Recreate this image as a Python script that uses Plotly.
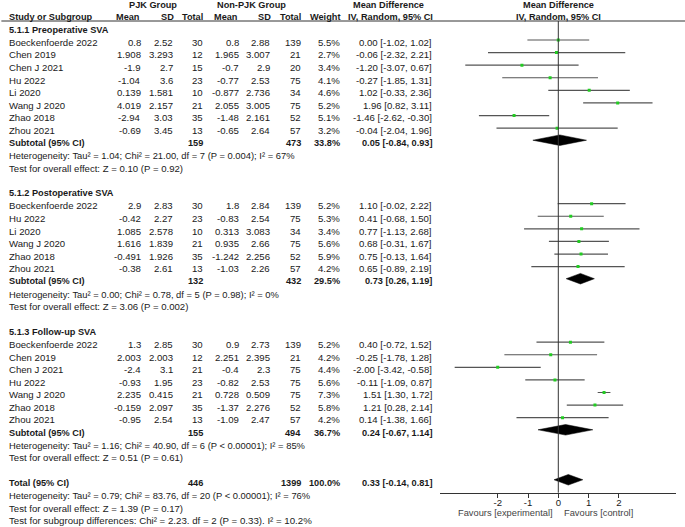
import plotly.graph_objects as go

# ---------------- data ----------------
sec1_title = "5.1.1 Preoperative SVA"
sec1_study = ["Boeckenfoerde 2022", "Chen 2019", "Chen J 2021", "Hu 2022", "Li 2020", "Wang J 2020", "Zhao 2018", "Zhou 2021"]
sec1_pjk_mean = ["0.8", "1.908", "-1.9", "-1.04", "0.139", "4.019", "-2.94", "-0.69"]
sec1_pjk_sd = ["2.52", "3.293", "2.7", "3.6", "1.581", "2.157", "3.03", "3.45"]
sec1_pjk_n = [30, 12, 15, 23, 10, 21, 35, 13]
sec1_non_mean = ["0.8", "1.965", "-0.7", "-0.77", "-0.877", "2.055", "-1.48", "-0.65"]
sec1_non_sd = ["2.88", "3.007", "2.9", "2.53", "2.736", "3.005", "2.161", "2.64"]
sec1_non_n = [139, 21, 20, 75, 34, 75, 52, 57]
sec1_weight = [5.5, 2.7, 3.4, 4.1, 4.6, 5.2, 5.1, 3.2]
sec1_md = [0.00, -0.06, -1.20, -0.27, 1.02, 1.96, -1.46, -0.04]
sec1_lo = [-1.02, -2.32, -3.07, -1.85, -0.33, 0.82, -2.62, -2.04]
sec1_hi = [1.02, 2.21, 0.67, 1.31, 2.36, 3.11, -0.30, 1.96]
sec1_sub = dict(n1=159, n2=473, w=33.8, md=0.05, lo=-0.84, hi=0.93)
sec1_het = "Heterogeneity: Tau² = 1.04; Chi² = 21.00, df = 7 (P = 0.004); I² = 67%"
sec1_test = "Test for overall effect: Z = 0.10 (P = 0.92)"

sec2_title = "5.1.2 Postoperative SVA"
sec2_study = ["Boeckenfoerde 2022", "Hu 2022", "Li 2020", "Wang J 2020", "Zhao 2018", "Zhou 2021"]
sec2_pjk_mean = ["2.9", "-0.42", "1.085", "1.616", "-0.491", "-0.38"]
sec2_pjk_sd = ["2.83", "2.27", "2.578", "1.839", "1.926", "2.61"]
sec2_pjk_n = [30, 23, 10, 21, 35, 13]
sec2_non_mean = ["1.8", "-0.83", "0.313", "0.935", "-1.242", "-1.03"]
sec2_non_sd = ["2.84", "2.54", "3.083", "2.66", "2.256", "2.26"]
sec2_non_n = [139, 75, 34, 75, 52, 57]
sec2_weight = [5.2, 5.3, 3.4, 5.6, 5.9, 4.2]
sec2_md = [1.10, 0.41, 0.77, 0.68, 0.75, 0.65]
sec2_lo = [-0.02, -0.68, -1.13, -0.31, -0.13, -0.89]
sec2_hi = [2.22, 1.50, 2.68, 1.67, 1.64, 2.19]
sec2_sub = dict(n1=132, n2=432, w=29.5, md=0.73, lo=0.26, hi=1.19)
sec2_het = "Heterogeneity: Tau² = 0.00; Chi² = 0.78, df = 5 (P = 0.98); I² = 0%"
sec2_test = "Test for overall effect: Z = 3.06 (P = 0.002)"

sec3_title = "5.1.3 Follow-up SVA"
sec3_study = ["Boeckenfoerde 2022", "Chen 2019", "Chen J 2021", "Hu 2022", "Wang J 2020", "Zhao 2018", "Zhou 2021"]
sec3_pjk_mean = ["1.3", "2.003", "-2.4", "-0.93", "2.235", "-0.159", "-0.95"]
sec3_pjk_sd = ["2.85", "2.003", "3.1", "1.95", "0.415", "2.097", "2.54"]
sec3_pjk_n = [30, 12, 21, 23, 21, 35, 13]
sec3_non_mean = ["0.9", "2.251", "-0.4", "-0.82", "0.728", "-1.37", "-1.09"]
sec3_non_sd = ["2.73", "2.395", "2.3", "2.53", "0.509", "2.276", "2.47"]
sec3_non_n = [139, 21, 75, 75, 75, 52, 57]
sec3_weight = [5.2, 4.2, 4.4, 5.6, 7.3, 5.8, 4.2]
sec3_md = [0.40, -0.25, -2.00, -0.11, 1.51, 1.21, 0.14]
sec3_lo = [-0.72, -1.78, -3.42, -1.09, 1.30, 0.28, -1.38]
sec3_hi = [1.52, 1.28, -0.58, 0.87, 1.72, 2.14, 1.66]
sec3_sub = dict(n1=155, n2=494, w=36.7, md=0.24, lo=-0.67, hi=1.14)
sec3_het = "Heterogeneity: Tau² = 1.16; Chi² = 40.90, df = 6 (P < 0.00001); I² = 85%"
sec3_test = "Test for overall effect: Z = 0.51 (P = 0.61)"

total = dict(n1=446, n2=1399, w=100.0, md=0.33, lo=-0.14, hi=0.81)
total_het = "Heterogeneity: Tau² = 0.79; Chi² = 83.76, df = 20 (P < 0.00001); I² = 76%"
total_test = "Test for overall effect: Z = 1.39 (P = 0.17)"
subgroup_test = "Test for subgroup differences: Chi² = 2.23. df = 2 (P = 0.33). I² = 10.2%"

tick_vals = [-2, -1, 0, 1, 2]
tick_text = ["-2", "-1", "0", "1", "2"]
favours_left = "Favours [experimental]"
favours_right = "Favours [control]"

# ---------------- layout helpers ----------------
W, H = 685, 527
ROW0, ROWH = 4.5, 12.59          # pixel centre of row 0, row height
FONT = "Liberation Sans"
FS = 9.6         # regular text
FSB = 9.2        # bold text
FSH = 9.4        # heterogeneity lines
TXT = "#1a1a1a"

def px(x):
    return x / W

# column right edges (pixels)
C_STUDY = 7
C_M1, C_S1, C_N1 = 143, 175, 204.5
C_M2, C_S2, C_N2 = 241, 271.5, 303
C_W = 341.5
C_MD = 433.5
C_ZERO = 558.3

annots = []

def txt(x, r, s, anchor="left", bold=False, color=TXT, size=None):
    if size is None:
        size = FSB if bold else FS
    annots.append(dict(
        x=px(x), xref="paper", y=r, yref="y", text=("<b>%s</b>" % s) if bold else s,
        showarrow=False, xanchor=anchor, yanchor="middle",
        font=dict(family=FONT, size=size, color=color)))

def fmt_ci(md, lo, hi):
    return "%.2f [%.2f, %.2f]" % (md, lo, hi)

# headers
txt(153.3, 0, "PJK Group", "center", True)
txt(251.7, 0, "Non-PJK Group", "center", True)
txt(388, 0, "Mean Difference", "center", True)
txt(C_ZERO, 0, "Mean Difference", "center", True)
txt(C_STUDY, 1, "Study or Subgroup", "left", True)
for x, s in [(C_M1 - 1.5, "Mean"), (C_S1 + 1, "SD"), (C_N1, "Total"), (C_M2 - 1.5, "Mean"),
             (C_S2 + 1, "SD"), (C_N2, "Total"), (C_W, "Weight")]:
    txt(x, 1, s, "right", True)
txt(390, 1, "IV, Random, 95% CI", "center", True)
txt(C_ZERO, 1, "IV, Random, 95% CI", "center", True)

ci_x, ci_y, sq_x, sq_y = [], [], [], []
diamonds = []

sections = [
    (sec1_title, sec1_study, sec1_pjk_mean, sec1_pjk_sd, sec1_pjk_n, sec1_non_mean, sec1_non_sd,
     sec1_non_n, sec1_weight, sec1_md, sec1_lo, sec1_hi, sec1_sub, sec1_het, sec1_test),
    (sec2_title, sec2_study, sec2_pjk_mean, sec2_pjk_sd, sec2_pjk_n, sec2_non_mean, sec2_non_sd,
     sec2_non_n, sec2_weight, sec2_md, sec2_lo, sec2_hi, sec2_sub, sec2_het, sec2_test),
    (sec3_title, sec3_study, sec3_pjk_mean, sec3_pjk_sd, sec3_pjk_n, sec3_non_mean, sec3_non_sd,
     sec3_non_n, sec3_weight, sec3_md, sec3_lo, sec3_hi, sec3_sub, sec3_het, sec3_test),
]

r = 2
for (title, study, m1, s1, n1, m2, s2, n2, w, md, lo, hi, sub, het, test) in sections:
    txt(C_STUDY, r, title, "left", True)
    r += 1
    for i in range(len(study)):
        txt(C_STUDY, r, study[i])
        txt(C_M1, r, m1[i], "right")
        txt(C_S1, r, s1[i], "right")
        txt(C_N1, r, str(n1[i]), "right")
        txt(C_M2, r, m2[i], "right")
        txt(C_S2, r, s2[i], "right")
        txt(C_N2, r, str(n2[i]), "right")
        txt(C_W, r, "%.1f%%" % w[i], "right")
        txt(C_MD, r, fmt_ci(md[i], lo[i], hi[i]), "right")
        yy = r - 0.18
        ci_x += [lo[i], hi[i], None]
        ci_y += [yy, yy, None]
        sq_x.append(md[i])
        sq_y.append(yy)
        r += 1
    txt(C_STUDY, r, "Subtotal (95% CI)", "left", True)
    txt(C_N1, r, str(sub["n1"]), "right", True)
    txt(C_N2, r, str(sub["n2"]), "right", True)
    txt(C_W, r, "%.1f%%" % sub["w"], "right", True)
    txt(C_MD, r, fmt_ci(sub["md"], sub["lo"], sub["hi"]), "right", True)
    diamonds.append((sub["md"], sub["lo"], sub["hi"], r - 0.22))
    r += 1
    txt(C_STUDY, r, het, size=FSH)
    r += 1
    txt(C_STUDY, r, test)
    r += 2

txt(C_STUDY, r, "Total (95% CI)", "left", True)
txt(C_N1, r, str(total["n1"]), "right", True)
txt(C_N2, r, str(total["n2"]), "right", True)
txt(C_W, r, "%.1f%%" % total["w"], "right", True)
txt(C_MD, r, fmt_ci(total["md"], total["lo"], total["hi"]), "right", True)
diamonds.append((total["md"], total["lo"], total["hi"], r - 0.25))
r += 1
txt(C_STUDY, r, total_het, size=FSH); r += 1
txt(C_STUDY, r, total_test); r += 1
txt(C_STUDY, r, subgroup_test, size=9.7)

# Favours labels
fav_r = (512.7 - ROW0) / ROWH
txt(554.5, fav_r, favours_left, "right", color="#444", size=9.3)
txt(561.5, fav_r, favours_right, "left", color="#444", size=9.3)

fig = go.Figure()
fig.add_trace(go.Scatter(x=ci_x, y=ci_y, mode="lines", line=dict(color="#555", width=1.2),
                         hoverinfo="skip", showlegend=False))
fig.add_trace(go.Scatter(x=sq_x, y=sq_y, mode="markers",
                         marker=dict(symbol="square", size=3, color="#22cc22", line=dict(width=0)),
                         hoverinfo="skip", showlegend=False))
DH = 0.42
for (m, lo, hi, yc) in diamonds:
    fig.add_trace(go.Scatter(x=[lo, m, hi, m, lo], y=[yc, yc - DH, yc, yc + DH, yc],
                             mode="lines", fill="toself", fillcolor="black",
                             line=dict(color="black", width=0.5),
                             hoverinfo="skip", showlegend=False))

y_top = (0 - ROW0) / ROWH
y_bot = (H - ROW0) / ROWH
axis_px = 492.7
line_r = (21 - ROW0) / ROWH
axis_r = (axis_px - ROW0) / ROWH

x_lo, x_hi = -3.9, 3.9
unit = 30.3
d0 = (C_ZERO + x_lo * unit) / W
d1 = (C_ZERO + x_hi * unit) / W

fig.update_layout(
    width=W, height=H, margin=dict(l=0, r=0, t=0, b=0),
    paper_bgcolor="white", plot_bgcolor="rgba(0,0,0,0)",
    showlegend=False, annotations=annots,
    xaxis=dict(domain=[d0, d1], range=[x_lo, x_hi], anchor="free", position=1 - axis_px / H,
               showline=True, linecolor="#333", linewidth=1, ticks="outside", ticklen=4,
               tickcolor="#333", tickvals=tick_vals, ticktext=tick_text, ticklabelstandoff=-3,
               tickfont=dict(family=FONT, size=FS, color=TXT), showgrid=False, zeroline=False,
               fixedrange=True),
    yaxis=dict(domain=[0, 1], range=[y_bot, y_top], visible=False, fixedrange=True),
    shapes=[
        dict(type="line", xref="paper", yref="y", x0=0.002, x1=1, y0=line_r, y1=line_r,
             line=dict(color="#333", width=1)),
        dict(type="line", xref="x", yref="y", x0=0, x1=0, y0=line_r, y1=axis_r,
             line=dict(color="#333", width=1)),
    ],
)

fig.write_html("out.html", config={"displayModeBar": False},
               post_script="document.body.style.margin='0';")
